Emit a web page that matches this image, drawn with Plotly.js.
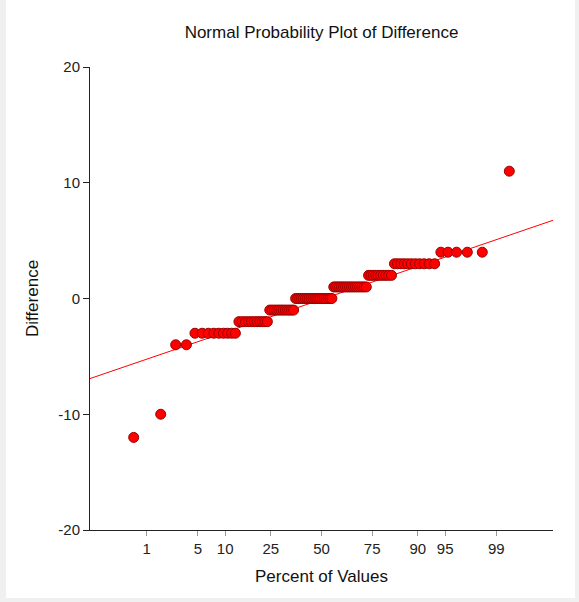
<!DOCTYPE html>
<html>
<head>
<meta charset="utf-8">
<script src="https://cdn.plot.ly/plotly-3.0.1.min.js"></script>
<style>
  html, body { margin: 0; padding: 0; background: #f0f0f0; width: 579px; height: 602px; overflow: hidden; }
  #chart { position: absolute; left: 6px; top: 0px; width: 569px; height: 598px; background: #ffffff; }
</style>
</head>
<body>
<div id="chart"></div>
<script>
// Sorted differences (n = 100)
const differences = [
  -12, -10, -4, -4,
  -3, -3, -3, -3, -3, -3, -3, -3, -3,
  -2, -2, -2, -2, -2, -2, -2, -2, -2, -2, -2,
  -1, -1, -1, -1, -1, -1, -1, -1, -1, -1, -1, -1,
  0, 0, 0, 0, 0, 0, 0, 0, 0, 0, 0, 0, 0, 0, 0, 0, 0, 0, 0, 0,
  1, 1, 1, 1, 1, 1, 1, 1, 1, 1, 1, 1, 1, 1, 1, 1, 1,
  2, 2, 2, 2, 2, 2, 2, 2, 2, 2,
  3, 3, 3, 3, 3, 3, 3, 3, 3, 3, 3,
  4, 4, 4, 4, 4,
  11
];
// Percent tick labels on the normal-probability axis
const percentTicks = [1, 5, 10, 25, 50, 75, 90, 95, 99];
const percentLabels = ["1", "5", "10", "25", "50", "75", "90", "95", "99"];
// Reference line: Difference = intercept + slope * z
const lineIntercept = -0.08;
const lineSlope = 2.22;
const zRange = [-3.08, 3.08];
const yTicks = [-20, -10, 0, 10, 20];

// Inverse standard normal CDF (Acklam)
function qnorm(p) {
  const a = [-3.969683028665376e+01, 2.209460984245205e+02, -2.759285104469687e+02, 1.383577518672690e+02, -3.066479806614716e+01, 2.506628277459239e+00];
  const b = [-5.447609879822406e+01, 1.615858368580409e+02, -1.556989798598866e+02, 6.680131188771972e+01, -1.328068155288572e+01];
  const c = [-7.784894002430293e-03, -3.223964580411365e-01, -2.400758277161838e+00, -2.549732539343734e+00, 4.374664141464968e+00, 2.938163982698783e+00];
  const d = [7.784695709041462e-03, 3.224671290700398e-01, 2.445134137142996e+00, 3.754408661907416e+00];
  const pl = 0.02425, ph = 1 - pl;
  let q, r;
  if (p < pl) {
    q = Math.sqrt(-2 * Math.log(p));
    return (((((c[0]*q+c[1])*q+c[2])*q+c[3])*q+c[4])*q+c[5]) / ((((d[0]*q+d[1])*q+d[2])*q+d[3])*q+1);
  } else if (p <= ph) {
    q = p - 0.5; r = q*q;
    return (((((a[0]*r+a[1])*r+a[2])*r+a[3])*r+a[4])*r+a[5])*q / (((((b[0]*r+b[1])*r+b[2])*r+b[3])*r+b[4])*r+1);
  } else {
    q = Math.sqrt(-2 * Math.log(1 - p));
    return -(((((c[0]*q+c[1])*q+c[2])*q+c[3])*q+c[4])*q+c[5]) / ((((d[0]*q+d[1])*q+d[2])*q+d[3])*q+1);
  }
}

const n = differences.length;
const zScores = differences.map((v, i) => qnorm((i + 1 - 0.375) / (n + 0.25)));
const tickZ = percentTicks.map(p => qnorm(p / 100));

const traces = [
  {
    x: zRange,
    y: zRange.map(z => lineIntercept + lineSlope * z),
    type: 'scatter',
    mode: 'lines',
    line: { color: '#ff0000', width: 1 },
    hoverinfo: 'skip',
    showlegend: false
  },
  {
    x: zScores,
    y: differences,
    type: 'scatter',
    mode: 'markers',
    marker: { color: '#ff0000', size: 10, line: { color: '#9a0000', width: 1 } },
    showlegend: false,
    cliponaxis: false
  }
];

const fontFam = 'Arial, "Liberation Sans", sans-serif';
const layout = {
  width: 569,
  height: 598,
  margin: { l: 84, r: 22, t: 67, b: 68 },
  paper_bgcolor: '#ffffff',
  plot_bgcolor: '#ffffff',
  font: { family: fontFam, size: 15, color: '#222222' },
  title: {
    text: 'Normal Probability Plot of Difference',
    font: { family: fontFam, size: 17, color: '#111111' },
    x: 0.5, xref: 'paper', xanchor: 'center',
    y: 1 - 32 / 598, yref: 'container', yanchor: 'middle'
  },
  xaxis: {
    range: zRange,
    tickmode: 'array',
    tickvals: tickZ,
    ticktext: percentLabels,
    ticks: 'outside',
    ticklen: 5,
    tickcolor: '#999999',
    showline: true,
    linecolor: '#222222',
    linewidth: 1,
    showgrid: false,
    zeroline: false,
    tickfont: { family: fontFam, size: 15, color: '#222222' },
    title: { text: 'Percent of Values', font: { family: fontFam, size: 17, color: '#111111' }, standoff: 14 }
  },
  yaxis: {
    range: [-20, 20],
    tickmode: 'array',
    tickvals: yTicks,
    ticktext: yTicks.map(String),
    ticks: 'outside',
    ticklen: 6,
    tickcolor: '#222222',
    showline: true,
    linecolor: '#222222',
    linewidth: 1,
    showgrid: false,
    zeroline: false,
    tickfont: { family: fontFam, size: 15, color: '#222222' },
    title: { text: 'Difference', font: { family: fontFam, size: 17, color: '#111111' }, standoff: 15 }
  }
};

Plotly.newPlot('chart', traces, layout, { staticPlot: true, displayModeBar: false });
</script>
</body>
</html>
